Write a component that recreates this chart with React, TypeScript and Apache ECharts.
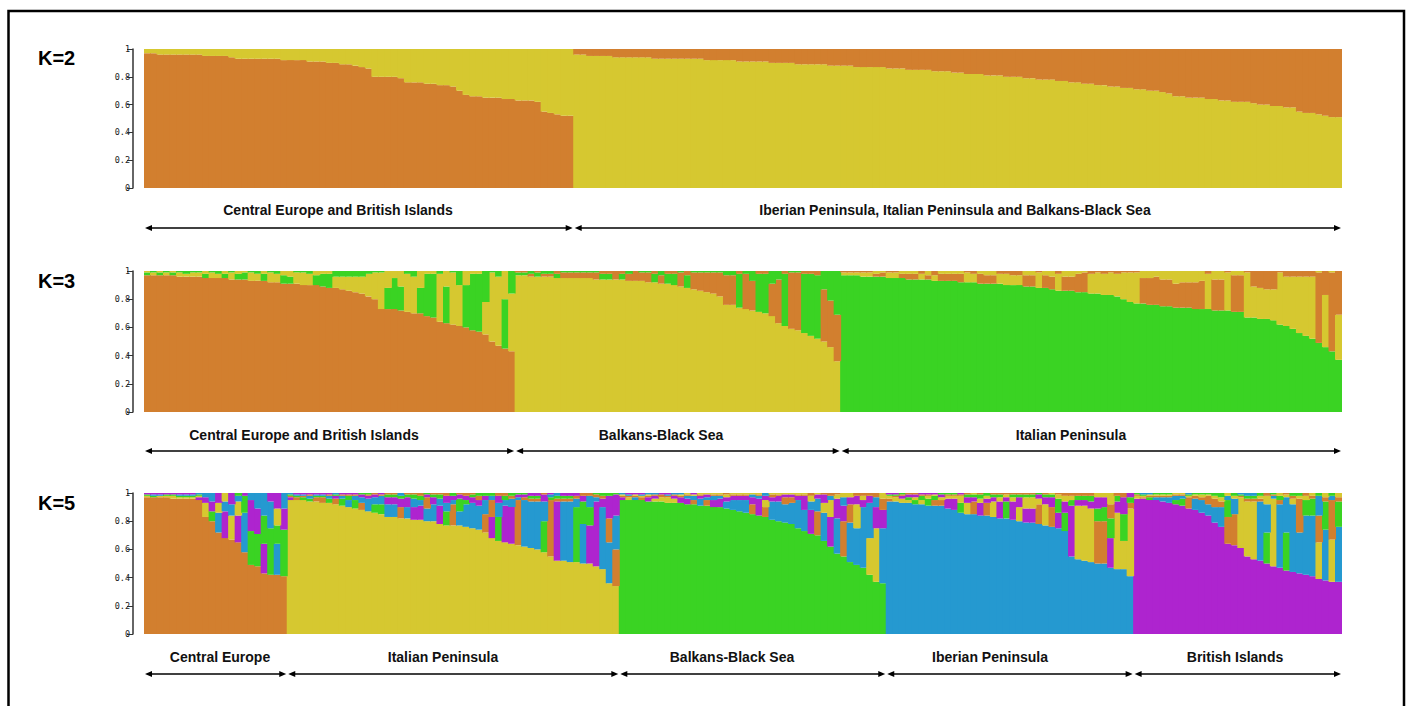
import { useEffect, useRef } from "react";
import * as echarts from "echarts";

// cluster colours: orange, yellow, green, blue, purple
const CLUSTER_COLORS = ["#D27F2F", "#D6C830", "#3AD323", "#2599D0", "#AE24CF"];

const Y_TICKS = [0, 0.2, 0.4, 0.6, 0.8, 1];

// ---------- K=2 : rows are [orange, yellow] ----------
const k2CentralBritish = [
  [97,3],[97,3],[96,4],[96,4],[96,4],[96,4],[96,4],[96,4],[96,4],[95,5],
  [95,5],[95,5],[95,5],[94,6],[93,7],[93,7],[93,7],[93,7],[93,7],[93,7],
  [93,7],[92,8],[92,8],[92,8],[92,8],[91,9],[91,9],[91,9],[90,10],[90,10],
  [89,11],[89,11],[88,12],[87,13],[86,14],[80,20],[80,20],[80,20],[80,20],[79,21],
  [76,24],[76,24],[76,24],[75,25],[75,25],[74,26],[74,26],[73,27],[70,30],[67,33],
  [66,34],[66,34],[65,35],[65,35],[65,35],[64,36],[64,36],[63,37],[63,37],[63,37],
  [62,38],[55,45],[54,46],[53,47],[52,48],[52,48],
];
const k2Southern = [
  [4,96],[4,96],[5,95],[5,95],[5,95],[5,95],[6,94],[6,94],[6,94],[6,94],
  [6,94],[6,94],[7,93],[7,93],[7,93],[7,93],[7,93],[7,93],[7,93],[7,93],
  [8,92],[8,92],[8,92],[8,92],[8,92],[9,91],[9,91],[9,91],[9,91],[9,91],
  [10,90],[10,90],[10,90],[10,90],[11,89],[11,89],[11,89],[11,89],[11,89],[12,88],
  [12,88],[12,88],[12,88],[13,87],[13,87],[13,87],[13,87],[13,87],[14,86],[14,86],
  [14,86],[15,85],[15,85],[15,85],[15,85],[16,84],[16,84],[16,84],[17,83],[17,83],
  [18,82],[18,82],[18,82],[19,81],[19,81],[19,81],[20,80],[20,80],[20,80],[21,79],
  [21,79],[22,78],[22,78],[22,78],[23,77],[23,77],[24,76],[24,76],[25,75],[25,75],
  [26,74],[26,74],[27,73],[27,73],[28,72],[28,72],[29,71],[29,71],[30,70],[30,70],
  [31,69],[32,68],[34,66],[34,66],[35,65],[35,65],[35,65],[36,64],[36,64],[37,63],
  [37,63],[38,62],[38,62],[38,62],[39,61],[40,60],[40,60],[41,59],[41,59],[42,58],
  [42,58],[45,55],[46,54],[46,54],[47,53],[48,52],[49,51],[49,51],
];

// ---------- K=3 : rows are [orange, yellow, green] ----------
const k3CentralBritish = [
  [97,1,2],[97,2,1],[97,1,2],[97,2,1],[97,1,2],[96,3,1],[96,2,2],[96,3,1],[96,3,1],[95,2,3],
  [95,4,1],[95,3,2],[95,2,3],[94,5,1],[94,2,4],[94,1,5],[93,6,1],[93,5,2],[93,2,5],[92,7,1],
  [92,6,2],[91,3,6],[91,4,5],[91,8,1],[90,9,1],[90,8,2],[90,3,7],[89,2,9],[88,2,10],[88,8,4],
  [87,9,4],[86,10,4],[85,11,4],[84,12,4],[82,16,2],[80,19,1],[73,26,1],[73,12,15],[73,5,22],[72,11,17],
  [71,27,2],[70,26,4],[70,12,18],[68,2,30],[67,2,31],[64,34,2],[63,11,26],[62,37,1],[61,29,10],[60,10,30],
  [58,2,40],[57,2,41],[55,23,22],[50,49,1],[47,49,4],[45,20,35],[43,41,16],
];
const k3Balkans = [
  [1,97,2],[1,97,2],[2,96,2],[1,96,3],[2,96,2],[2,96,2],[2,95,3],[4,95,1],[4,95,1],[4,95,1],
  [4,95,1],[4,95,1],[5,94,1],[2,94,4],[2,94,4],[6,94,0],[2,94,4],[5,93,2],[7,93,0],[6,93,1],
  [7,92,1],[2,92,6],[6,91,3],[2,91,7],[2,90,8],[10,89,1],[3,88,9],[12,87,1],[13,86,1],[14,85,1],
  [15,84,1],[17,82,1],[21,76,3],[21,76,3],[2,74,24],[25,73,2],[21,72,7],[2,71,27],[2,70,28],[23,68,9],
  [31,63,6],[2,61,37],[40,59,1],[41,58,1],[2,56,42],[2,54,44],[3,52,45],[37,50,13],[33,46,21],[33,36,31],
];
const k3Italian = [
  [1,2,97],[1,2,97],[1,2,97],[1,3,96],[1,3,96],[2,2,96],[3,1,96],[1,4,95],[1,4,95],[3,2,95],
  [4,2,94],[4,2,94],[2,4,94],[3,3,94],[3,4,93],[5,2,93],[5,2,93],[5,2,93],[6,2,92],[1,7,92],
  [2,6,92],[7,2,91],[6,3,91],[6,3,91],[2,7,91],[2,8,90],[3,7,90],[3,7,90],[8,3,89],[8,3,89],
  [1,11,88],[9,3,88],[9,4,87],[2,12,86],[10,4,86],[10,4,86],[13,2,85],[14,1,85],[2,14,84],[1,15,84],
  [2,15,83],[1,16,83],[2,16,82],[1,19,80],[1,21,78],[1,22,77],[18,5,77],[19,5,76],[20,4,76],[19,6,75],
  [19,6,75],[17,9,74],[18,8,74],[18,8,74],[19,8,73],[20,7,73],[2,25,73],[22,6,72],[22,6,72],[1,27,72],
  [26,3,71],[26,3,71],[1,32,67],[11,22,67],[12,22,66],[13,21,66],[13,22,65],[1,37,62],[4,35,61],[4,37,59],
  [4,40,56],[4,42,54],[4,44,52],[50,1,49],[17,37,46],[56,1,43],[31,32,37],
];

// ---------- K=5 : rows are [orange, yellow, green, blue, purple] ----------
const k5Central = [
  [97,1,1,0,1],[97,0,1,1,1],[97,1,0,1,1],[97,1,1,0,1],[96,2,1,0,1],[96,1,1,1,1],[96,1,1,1,1],[96,1,1,1,1],
  [95,1,1,1,2],[83,10,0,3,4],[80,0,7,6,7],[72,7,0,14,7],[68,6,0,7,19],[67,17,0,8,8],[65,10,2,4,19],
  [58,0,12,28,2],[49,0,24,5,22],[48,0,23,11,18],[43,0,20,16,21],[42,0,33,19,6],[42,12,13,22,11],[41,0,33,11,15],
];
const k5Italian = [
  [1,95,1,1,2],[2,95,1,1,1],[1,95,2,1,1],[1,94,2,2,1],[3,94,1,1,1],[4,93,1,1,1],[1,93,3,2,1],[4,92,1,1,2],
  [1,91,5,2,1],[1,90,3,5,1],[1,89,6,3,1],[5,88,1,4,2],[1,87,1,9,2],[1,86,6,5,2],[1,85,7,6,1],[1,83,2,9,5],
  [1,83,2,9,5],[8,82,2,2,6],[1,82,2,8,7],[1,81,3,6,9],[2,81,3,4,10],[8,80,1,9,2],[1,80,2,12,5],[1,78,3,5,13],
  [2,77,10,6,5],[15,77,2,3,3],[1,77,9,10,3],[2,76,3,16,3],[1,75,2,18,4],[3,74,2,17,4],[13,72,2,10,3],[12,68,2,3,15],
  [2,66,17,10,5],[2,65,3,4,26],[2,64,2,6,26],[32,63,1,2,2],[2,62,1,33,2],[2,61,2,33,2],[2,60,2,34,2],[1,58,22,14,5],
  [40,55,2,2,1],[2,52,2,2,42],[2,52,2,42,2],[2,51,2,43,2],[2,51,39,6,2],[2,50,16,28,4],[2,50,13,8,27],[2,48,1,3,46],
  [2,46,2,44,6],[17,36,2,29,16],[26,34,1,24,15],
];
const k5Balkans = [
  [1,1,95,1,2],[1,2,95,1,1],[1,1,95,2,1],[2,1,95,1,1],[1,1,94,1,3],[1,2,94,1,2],[2,3,94,0,1],[1,4,93,1,1],
  [1,3,93,1,2],[1,1,93,1,4],[1,1,92,2,4],[3,1,92,3,1],[1,1,91,5,2],[4,1,91,2,2],[1,1,90,3,5],[1,1,90,2,6],
  [1,2,89,5,3],[1,1,88,7,3],[1,1,87,8,3],[1,1,86,9,3],[7,1,85,2,5],[1,1,84,2,12],[7,5,83,2,3],[2,1,81,13,3],
  [1,1,80,14,4],[5,1,79,13,2],[4,1,78,15,2],[1,1,75,20,3],[1,1,73,15,10],[2,4,71,6,17],[17,1,70,9,3],[1,7,66,20,6],
  [2,12,62,3,21],[1,3,57,25,14],[25,3,55,6,11],[13,3,51,28,5],[2,17,49,26,6],[2,3,47,43,5],[2,26,42,25,5],[3,38,37,7,15],
  [8,4,36,39,13],
];
const k5Iberian = [
  [2,2,1,94,1],[1,3,1,94,1],[1,3,1,93,2],[1,2,2,93,2],[1,2,3,92,2],[1,3,3,92,1],[1,2,5,91,1],[4,1,3,91,1],
  [4,2,1,91,2],[1,2,1,89,7],[1,2,1,88,8],[1,5,7,86,1],[1,8,2,85,4],[9,1,2,85,3],[1,3,3,84,9],[9,2,2,84,3],
  [1,11,2,83,3],[1,3,2,82,12],[1,2,12,82,3],[1,3,2,81,13],[1,10,2,80,7],[1,8,2,79,10],[1,8,2,79,10],[14,4,1,78,3],
  [1,15,2,77,5],[14,1,2,76,7],[1,3,10,75,11],[2,4,13,73,8],[2,3,4,55,36],[2,38,3,53,4],[2,39,3,52,4],[2,38,4,51,5],
  [30,3,9,50,8],[30,3,10,50,7],[10,8,14,47,21],[2,40,4,46,8],[3,20,19,46,12],[4,48,4,41,3],
];
const k5British = [
  [1,2,1,0,96],[1,1,1,1,96],[1,1,2,1,95],[1,1,1,2,95],[1,1,1,3,94],[1,1,1,4,93],[1,1,3,3,92],[1,1,5,2,91],
  [8,1,1,1,89],[2,1,1,8,88],[2,2,1,9,86],[6,1,1,8,84],[6,2,2,11,79],[4,3,3,14,76],[19,2,12,3,64],[22,2,2,11,63],
  [1,36,1,1,61],[2,39,2,2,55],[2,41,2,2,53],[2,2,2,42,52],[2,6,22,20,50],[1,48,1,2,48],[3,2,3,45,47],[1,2,27,25,45],
  [2,4,2,48,44],[24,2,2,29,43],[2,3,11,42,42],[2,2,12,43,41],[19,26,2,14,39],[3,3,20,36,38],[28,30,2,3,37],[3,3,18,39,37],
];

// ---------- panel definitions ----------
const panels = [
  {
    title: "K=2",
    groups: [
      { name: "Central Europe and British Islands", base: 0, rows: k2CentralBritish },
      { name: "Iberian Peninsula, Italian Peninsula and Balkans-Black Sea", base: 1, rows: k2Southern },
    ],
  },
  {
    title: "K=3",
    groups: [
      { name: "Central Europe and British Islands", base: 0, rows: k3CentralBritish },
      { name: "Balkans-Black Sea", base: 1, rows: k3Balkans },
      { name: "Italian Peninsula", base: 2, rows: k3Italian },
    ],
  },
  {
    title: "K=5",
    groups: [
      { name: "Central Europe", base: 0, rows: k5Central },
      { name: "Italian Peninsula", base: 1, rows: k5Italian },
      { name: "Balkans-Black Sea", base: 2, rows: k5Balkans },
      { name: "Iberian Peninsula", base: 3, rows: k5Iberian },
      { name: "British Islands", base: 4, rows: k5British },
    ],
  },
];

// ---------- layout (positions only) ----------
const GRID_LEFT = 144;
const GRID_WIDTH = 1198;
const GRID_TOPS = [49, 271, 493];
const GRID_HEIGHTS = [139, 141, 141];
const TITLE_Y = [58, 281, 503];
const LABEL_Y = [210, 435, 657];
const ARROW_Y = [228, 451, 674];
const LABEL_X = [
  [338, 955],
  [304, 661, 1071],
  [220, 443, 732, 990, 1235],
];

export default function App() {
  const ref = useRef<HTMLDivElement>(null);

  useEffect(() => {
    if (!ref.current) return;
    const chart = echarts.init(ref.current, null, { renderer: "svg" });

    const grids: any[] = [];
    const xAxes: any[] = [];
    const yAxes: any[] = [];
    const series: any[] = [];
    const graphics: any[] = [];

    graphics.push({
      type: "polyline",
      shape: { points: [[8.5, 720], [8.5, 11], [1404, 11], [1404, 720]] },
      style: { stroke: "#000", lineWidth: 2.5, fill: null },
      silent: true,
    });

    panels.forEach((panel, p) => {
      const K = panel.groups[0].rows[0].length;
      const bars: { c: number; v: number }[][] = [];
      panel.groups.forEach((g) => {
        g.rows.forEach((r) => {
          const sum = r.reduce((a, b) => a + b, 0);
          const segs = r.map((v, c) => ({ c, v: v / sum }));
          const base = segs[g.base];
          const others = segs.filter((s) => s.c !== g.base).sort((a, b) => b.v - a.v);
          bars.push([base, ...others]);
        });
      });
      const N = bars.length;
      const band = GRID_WIDTH / N;

      grids.push({
        left: GRID_LEFT,
        width: GRID_WIDTH,
        top: GRID_TOPS[p],
        height: GRID_HEIGHTS[p],
        containLabel: false,
      });
      xAxes.push({
        type: "category",
        gridIndex: p,
        data: bars.map((_, i) => String(i + 1)),
        show: false,
        boundaryGap: true,
      });
      yAxes.push({
        type: "value",
        gridIndex: p,
        min: 0,
        max: 1,
        interval: 0.2,
        offset: 11,
        splitLine: { show: false },
        axisLine: { show: true, lineStyle: { color: "#333", width: 1.5 } },
        axisTick: { show: true, length: 6, lineStyle: { color: "#333", width: 1 } },
        axisLabel: {
          show: true,
          fontSize: 8.5,
          margin: 3,
          color: "#222",
          fontFamily: "DejaVu Sans Mono",
          customValues: Y_TICKS,
          formatter: (v: number) => String(Math.round(v * 10) / 10),
        },
      });

      for (let level = 0; level < K; level++) {
        series.push({
          type: "bar",
          xAxisIndex: p,
          yAxisIndex: p,
          stack: "panel" + p,
          barWidth: band + 1,
          barGap: "-100%",
          silent: true,
          data: bars.map((b) => {
            const s = b[level];
            return {
              value: s.v,
              itemStyle: { color: CLUSTER_COLORS[s.c] },
            };
          }),
        });
      }

      // K title
      graphics.push({
        type: "text",
        x: 38,
        y: TITLE_Y[p],
        style: {
          text: panel.title,
          fill: "#000",
          font: 'bold 20px "Liberation Sans", Arial, sans-serif',
          textAlign: "left",
          textVerticalAlign: "middle",
        },
        silent: true,
      });

      // group labels and arrows
      let cum = 0;
      panel.groups.forEach((g, gi) => {
        const x0 = GRID_LEFT + (GRID_WIDTH * cum) / N;
        cum += g.rows.length;
        const x1 = GRID_LEFT + (GRID_WIDTH * cum) / N;
        const ay = ARROW_Y[p];
        const a0 = x0 + 1;
        const a1 = x1 - 1;
        graphics.push({
          type: "text",
          x: LABEL_X[p][gi],
          y: LABEL_Y[p],
          style: {
            text: g.name,
            fill: "#111",
            font: 'bold 14px "Liberation Sans", Arial, sans-serif',
            textAlign: "center",
            textVerticalAlign: "middle",
          },
          silent: true,
        });
        graphics.push({
          type: "line",
          shape: { x1: a0 + 4, y1: ay, x2: a1 - 4, y2: ay },
          style: { stroke: "#000", lineWidth: 1.6 },
          silent: true,
        });
        graphics.push({
          type: "polygon",
          shape: { points: [[a0, ay], [a0 + 7, ay - 3], [a0 + 7, ay + 3]] },
          style: { fill: "#000" },
          silent: true,
        });
        graphics.push({
          type: "polygon",
          shape: { points: [[a1, ay], [a1 - 7, ay - 3], [a1 - 7, ay + 3]] },
          style: { fill: "#000" },
          silent: true,
        });
      });
    });

    chart.setOption({
      animation: false,
      backgroundColor: "#fff",
      grid: grids,
      xAxis: xAxes,
      yAxis: yAxes,
      series,
      graphic: graphics,
    });

    return () => chart.dispose();
  }, []);

  return (
    <div
      ref={ref}
      style={{ position: "fixed", left: 0, top: 0, width: 1411, height: 706, background: "#fff" }}
    />
  );
}
